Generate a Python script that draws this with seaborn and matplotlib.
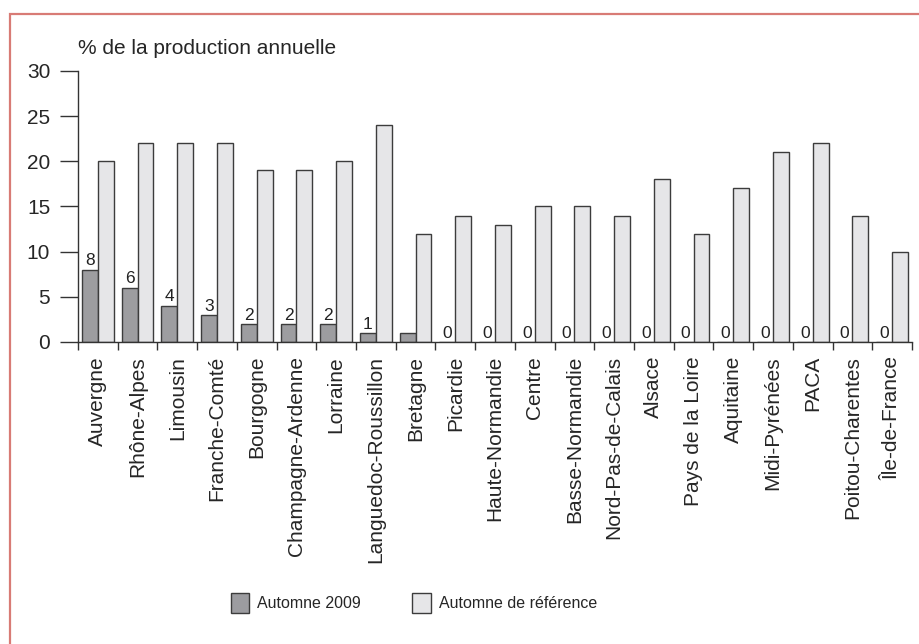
import matplotlib
matplotlib.use("Agg")
import matplotlib.pyplot as plt
import seaborn as sns
import pandas as pd
from matplotlib.patches import Patch, Rectangle
from matplotlib import font_manager

regions = ["Auvergne", "Rhône-Alpes", "Limousin", "Franche-Comté", "Bourgogne",
           "Champagne-Ardenne", "Lorraine", "Languedoc-Roussillon", "Bretagne",
           "Picardie", "Haute-Normandie", "Centre", "Basse-Normandie",
           "Nord-Pas-de-Calais", "Alsace", "Pays de la Loire", "Aquitaine",
           "Midi-Pyrénées", "PACA", "Poitou-Charentes", "Île-de-France"]
automne_2009 = [8, 6, 4, 3, 2, 2, 2, 1, 1, 0, 0, 0, 0, 0, 0, 0, 0, 0, 0, 0, 0]
automne_ref = [20, 22, 22, 22, 19, 19, 20, 24, 12, 14, 13, 15, 15, 14, 18, 12, 17, 21, 22, 14, 10]
labels_2009 = ["8", "6", "4", "3", "2", "2", "2", "1", "", "0", "0", "0", "0", "0",
               "0", "0", "0", "0", "0", "0", "0"]
series = ["Automne 2009", "Automne de référence"]
y_ticks = [0, 5, 10, 15, 20, 25, 30]
y_title = "% de la production annuelle"

sns.set_style("ticks")
plt.rcParams["font.family"] = ["Liberation Sans", "DejaVu Sans"]

installed = {f.name for f in font_manager.fontManager.ttflist}
legend_family = ["Liberation Sans Narrow", "DejaVu Sans"] if "Liberation Sans Narrow" in installed \
    else ["Liberation Sans", "DejaVu Sans"]
legend_size = 14.5 if "Liberation Sans Narrow" in installed else 11.5

df = pd.DataFrame({
    "region": regions * 2,
    "valeur": automne_2009 + automne_ref,
    "serie": [series[0]] * len(regions) + [series[1]] * len(regions),
})
colors = {series[0]: "#9c9ca0", series[1]: "#e6e6e8"}

fig = plt.figure(figsize=(9.19, 6.44), dpi=100)
ax = fig.add_axes([78 / 919, 1 - 342 / 644, (912 - 78) / 919, (342 - 71) / 644])

sns.barplot(data=df, x="region", y="valeur", hue="serie", order=regions,
            hue_order=series, palette=colors, edgecolor="#3c3c3c", linewidth=1,
            width=0.8, ax=ax, legend=False)

ax.bar_label(ax.containers[0], labels=labels_2009, padding=1, fontsize=12.5, color="#222222")

ax.set_xlim(-0.5, len(regions) - 0.5)
ax.set_ylim(0, 30)
ax.set_yticks(y_ticks)
ax.set_yticklabels([str(v) for v in y_ticks], fontsize=15)
ax.set_xlabel("")
ax.set_ylabel("")
ax.set_xticks(range(len(regions)))
ax.set_xticklabels(regions, rotation=90, fontsize=15, va="top", ha="center")
ax.set_xticks([i - 0.5 for i in range(len(regions) + 1)], minor=True)
ax.tick_params(axis="x", which="major", length=0, pad=10)
ax.tick_params(axis="x", which="minor", length=6, width=1, color="#333333")
ax.tick_params(axis="y", length=13, width=1, color="#333333", pad=7)
for s in ["top", "right"]:
    ax.spines[s].set_visible(False)
for s in ["left", "bottom"]:
    ax.spines[s].set_color("#333333")
    ax.spines[s].set_linewidth(1)

fig.text(78 / 919, 1 - 49 / 644, y_title, fontsize=15, va="center", ha="left")

handles = [Patch(facecolor=colors[s], edgecolor="#3c3c3c", linewidth=1) for s in series]
fig.legend(handles, series, loc="center", bbox_to_anchor=(414 / 919, 1 - 603 / 644),
           ncol=2, frameon=False, prop={"family": legend_family, "size": legend_size},
           handlelength=1.15, handleheight=1.5, handletextpad=0.5, columnspacing=3.2)

fig.patches.append(Rectangle((10 / 919, -0.1), 1.2, 1.1 - 14 / 644, transform=fig.transFigure,
                             fill=False, edgecolor="#d87b75", linewidth=1.6, figure=fig))

fig.savefig("out.png", dpi=100)
